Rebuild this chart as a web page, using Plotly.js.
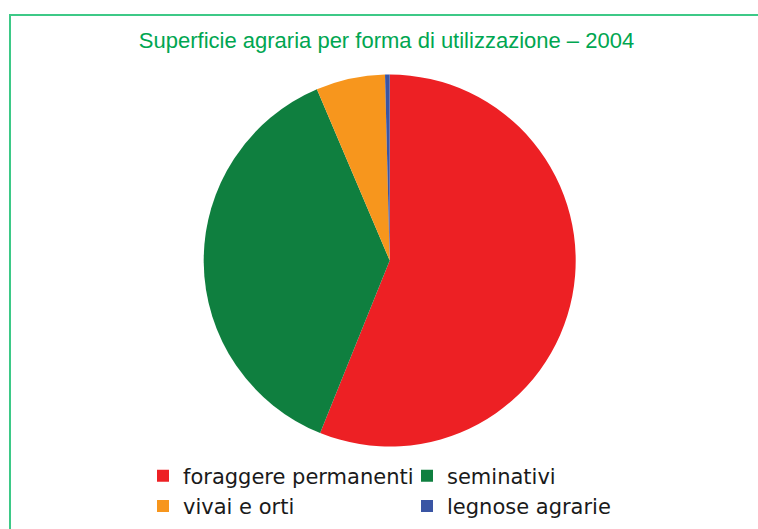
<!DOCTYPE html>
<html>
<head>
<meta charset="utf-8">
<script src="https://cdn.plot.ly/plotly-3.0.1.min.js"></script>
<style>html,body{margin:0;padding:0;background:#fff;overflow:hidden;}#chart{width:758px;height:529px;}</style>
</head>
<body>
<div id="chart"></div>
<script>
const categories = ["foraggere permanenti", "seminativi", "vivai e orti", "legnose agrarie"];
const shares = [56.1, 37.5, 6.0, 0.4];
const sliceColors = ["#ED2024", "#0F7F3F", "#F7961D", "#3A55A4"];
const chartTitle = "Superficie agraria per forma di utilizzazione – 2004";

const W = 758, H = 529;
const cx = 389.7, cy = 260.5, R = 186;

const data = [{
  type: "pie",
  labels: categories,
  values: shares,
  sort: false,
  direction: "clockwise",
  rotation: 0,
  textinfo: "none",
  hoverinfo: "label+percent",
  marker: { colors: sliceColors, line: { width: 0 } },
  domain: { x: [(cx - R) / W, (cx + R) / W], y: [1 - (cy + R) / H, 1 - (cy - R) / H] }
}];

const layout = {
  width: W, height: H,
  margin: { l: 0, r: 0, t: 0, b: 0, pad: 0, autoexpand: false },
  paper_bgcolor: "#fff",
  showlegend: true,
  title: {
    text: chartTitle,
    font: { family: "Liberation Sans, Arial, sans-serif", size: 22, color: "#00A651" },
    x: 386.5 / W, xref: "paper", xanchor: "center",
    y: 1 - 40 / H, yref: "container", yanchor: "middle"
  },
  legend: {
    orientation: "h",
    x: 143 / W, xanchor: "left",
    y: 1 - 455.5 / H, yanchor: "top",
    entrywidth: 219, entrywidthmode: "pixels",
    traceorder: "normal",
    font: { family: "DejaVu Sans, Verdana, sans-serif", size: 21, color: "#1a1a1a" },
    bgcolor: "rgba(0,0,0,0)"
  },
  shapes: [{
    type: "rect", xref: "paper", yref: "paper",
    x0: 10 / W, x1: 1.05, y0: -0.05, y1: 1 - 15 / H,
    line: { color: "#3DC987", width: 2 }, fillcolor: "rgba(0,0,0,0)", layer: "below"
  }]
};

Plotly.newPlot("chart", data, layout, { displayModeBar: false, staticPlot: true });
</script>
</body>
</html>
